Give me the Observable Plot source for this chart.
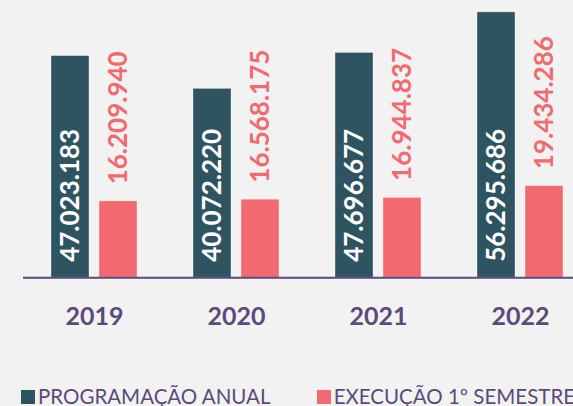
<!DOCTYPE html>
<html><head><meta charset="utf-8">
<script src="https://cdn.jsdelivr.net/npm/d3@7"></script>
<script src="https://cdn.jsdelivr.net/npm/@observablehq/plot@0.6"></script>
<style>
html,body{margin:0;padding:0;background:#f2f2f2;overflow:hidden;width:573px;height:406px;}
#chart svg{display:block;}
#legend{position:relative;height:24px;font-family:Lato,sans-serif;font-size:20.5px;color:#5b4a7b;}
.item{position:absolute;top:2px;white-space:nowrap;line-height:normal;}
.sw{display:inline-block;width:14px;height:14px;margin-right:3px;}
</style></head><body>
<div id="chart"></div><div id="legend"></div>
<script>
const years = ["2019", "2020", "2021", "2022"];
const series = ["PROGRAMAÇÃO ANUAL", "EXECUÇÃO 1º SEMESTRE"];
const programacao = [47023183, 40072220, 47696677, 56295686];
const execucao = [16209940, 16568175, 16944837, 19434286];
const colors = ["#2f5461", "#f2696f"];
const purple = "#5b4a7b";

const fmt = d3.formatLocale({decimal: ",", thousands: ".", grouping: [3], currency: ["", ""]}).format(",d");

const rows = [];
years.forEach((y, i) => {
  rows.push({year: y, series: series[0], value: programacao[i]});
  rows.push({year: y, series: series[1], value: execucao[i]});
});
const darkRows = rows.filter(d => d.series === series[0]);
const lightRows = rows.filter(d => d.series === series[1]);

const chart = Plot.plot({
  width: 573,
  height: 382,
  marginTop: 0,
  marginBottom: 104.7,
  marginLeft: 0,
  marginRight: 0,
  style: {background: "transparent", overflow: "visible", fontFamily: "Lato"},
  fx: {domain: years, range: [21, 592.6], padding: 0, axis: null},
  x: {domain: series, range: [28.3, 114.5], paddingInner: 0.212, paddingOuter: 0, axis: null},
  y: {domain: [0, 58810000], axis: null},
  color: {domain: series, range: colors},
  marks: [
    Plot.barY(rows, {fx: "year", x: "series", y: "value", fill: "series", stroke: "#ffffff", strokeOpacity: 0.45, strokeWidth: 0.8}),
    Plot.ruleY([0], {stroke: purple, strokeWidth: 2}),
    Plot.text(darkRows, {fx: "year", x: "series", frameAnchor: "bottom", text: d => fmt(d.value), rotate: -90, textAnchor: "start", lineAnchor: "middle", dy: -16, fill: "#ffffff", fontWeight: "bold", fontSize: 26, fontFamily: "Lato"}),
    Plot.text(lightRows, {fx: "year", x: "series", y: "value", text: d => fmt(d.value), rotate: -90, textAnchor: "start", lineAnchor: "middle", dy: -17, fill: colors[1], fontWeight: "bold", fontSize: 26, fontFamily: "Lato"}),
    Plot.text(years, {fx: d => d, text: d => d, frameAnchor: "bottom", lineAnchor: "top", dy: 29.4, fill: purple, fontWeight: "bold", fontSize: 25, fontFamily: "Lato"})
  ]
});
document.getElementById("chart").appendChild(chart);

const legend = document.getElementById("legend");
const lefts = [21, 316.7];
series.forEach((s, i) => {
  const it = document.createElement("div");
  it.className = "item";
  it.style.left = lefts[i] + "px";
  const sw = document.createElement("span");
  sw.className = "sw";
  sw.style.background = colors[i];
  it.appendChild(sw);
  it.appendChild(document.createTextNode(s));
  legend.appendChild(it);
});
</script>
</body></html>
